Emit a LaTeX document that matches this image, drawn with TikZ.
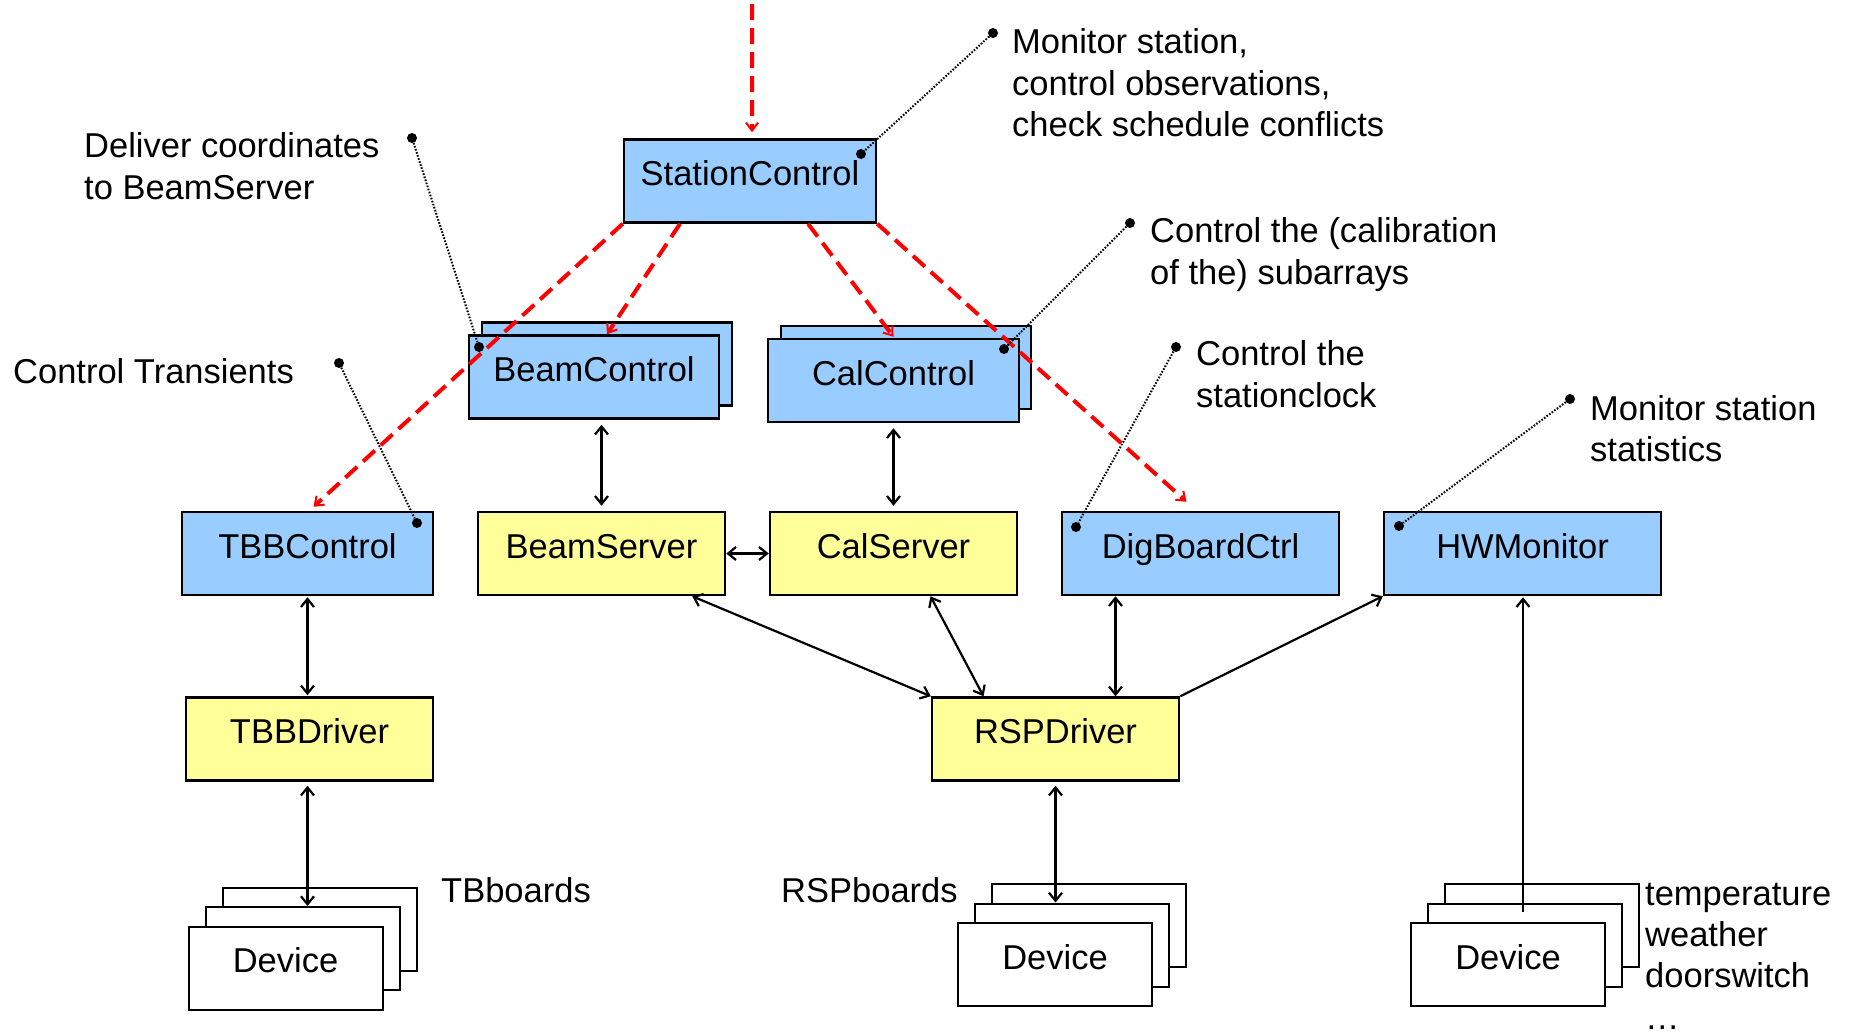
\documentclass[tikz,border=0pt]{standalone}
\usepackage{fontspec}
\setmainfont{Liberation Sans}
\usetikzlibrary{arrows.meta}
\definecolor{boxblue}{RGB}{153,204,255}
\definecolor{boxyellow}{RGB}{255,255,153}
\definecolor{dashred}{RGB}{255,0,0}
\begin{document}
\begin{tikzpicture}[x=1bp,y=-1bp,
  font=\fontsize{34.5bp}{41.4bp}\selectfont,
  >={Straight Barb[length=8bp,width=13bp]},
  box/.style={draw=black, line width=2.5bp, inner sep=0pt, text height=28bp, text depth=19bp, minimum height=83bp},
  ctrlbox/.style={box, fill=boxblue},
  srvbox/.style={box, fill=boxyellow},
  devbox/.style={box, fill=white, line width=2bp, minimum width=194bp},
  note/.style={inner sep=0pt, align=left, anchor=north west},
  conn/.style={line width=2.2bp},
  ctlflow/.style={dashred, line width=4bp, dash pattern=on 16bp off 8bp, -{Straight Barb[length=8bp,width=12bp,line width=2bp]}},
  pin/.style={circle, fill=black, inner sep=0pt, minimum size=10bp},
  pointer/.style={line width=2bp, dash pattern=on 1.6bp off 1.6bp},
]
\useasboundingbox (0,0) rectangle (1854,1033);

% ---- boxes ----
\node[ctrlbox, minimum width=252bp] (sc) at (750,181) {StationControl};

\node[ctrlbox, minimum width=250bp] (bcback) at (607,364) {};
\node[ctrlbox, minimum width=250bp] (bc) at (594,377) {BeamControl};
\node[ctrlbox, minimum width=250bp] (ccback) at (906,367.5) {};
\node[ctrlbox, minimum width=251bp] (cc) at (893.5,380.5) {CalControl};

\node[ctrlbox, minimum width=251bp] (tbbc) at (307.5,553.5) {TBBControl};
\node[srvbox, minimum width=247bp] (bs) at (601.5,553.5) {BeamServer};
\node[srvbox, minimum width=247bp] (cs) at (893.5,553.5) {CalServer};
\node[ctrlbox, minimum width=277bp] (dbc) at (1200.5,553.5) {DigBoardCtrl};
\node[ctrlbox, minimum width=277bp] (hwm) at (1522.5,553.5) {HWMonitor};

\node[srvbox, minimum width=247bp] (tbbd) at (309.5,739) {TBBDriver};
\node[srvbox, minimum width=247bp] (rspd) at (1055.5,739) {RSPDriver};

% devices
\node[devbox] (tbb) at (319.5,929) {};
\node[devbox] (tbm) at (302.5,948.5) {};
\node[devbox] (tbf) at (285.5,968) {Device};

\node[devbox] (rspb) at (1089,925.5) {};
\node[devbox] (rspm) at (1072,945) {};
\node[devbox] (rspf) at (1055,964.5) {Device};

\node[devbox] (hwb) at (1542,925.5) {};
\node[devbox] (hwmid) at (1525,945) {};
\node[devbox] (hwf) at (1508,964.5) {Device};

% ---- black connectors ----
\draw[conn,<->,shorten <=5bp,shorten >=5bp] (bc.south -| bs.north) -- (bs.north);
\draw[conn,<->,shorten <=5bp,shorten >=5bp] (cc.south -| cs.north) -- (cs.north);
\draw[conn,<->] (bs.east) -- (cs.west);
\draw[conn,<->,shorten <=1bp,shorten >=1bp] (tbbc.south) -- (tbbc.south |- tbbd.north);
\draw[conn,<->,shorten <=4bp] (tbbc.south |- tbbd.south) -- (tbbc.south |- tbm.north);
\draw[conn,<->,shorten <=4bp] (rspd.south) -- (rspd.south |- rspm.north);
\coordinate (hwend) at (1523,912);
\draw[conn,->,shorten >=1bp] (hwend) -- (hwend |- hwm.south);
\draw[conn,<->] ([xshift=-34bp]bs.south east) -- (rspd.north west);
\draw[conn,<->] ([xshift=37bp]cs.south) -- ([xshift=-72bp]rspd.north);
\coordinate (rspdb) at ([xshift=60bp]rspd.north);
\draw[conn,<->] (rspdb) -- (rspdb |- dbc.south);
\draw[conn,->] (rspd.north east) -- (hwm.south west);

% ---- red control flow ----
\coordinate (entry) at (752,4);
\draw[ctlflow] (entry) -- ([xshift=2bp,yshift=6bp]sc.north);
\draw[ctlflow] (sc.south west) -- ([xshift=6bp,yshift=4bp]tbbc.north);
\draw[ctlflow] ([xshift=-70bp]sc.south) -- ([xshift=13bp]bc.north);
\draw[ctlflow] ([xshift=58bp]sc.south) -- ([yshift=1bp]cc.north);
\draw[ctlflow] (sc.south east) -- ([xshift=-14bp,yshift=9bp]dbc.north);

% ---- annotations ----
\node[pin] (p1) at (993,33) {};
\node[pin] (p1b) at (861,154) {};
\draw[pointer] (p1) -- (p1b);
\node[note] (t1) at (1012,28.5) {Monitor station,\\control observations,\\check schedule conflicts};

\node[pin] (p2) at (412,138) {};
\node[pin] (p2b) at (479,347) {};
\draw[pointer] (p2) -- (p2b);
\node[note] (t2) at (84,132.5) {Deliver coordinates\\to BeamServer};

\node[pin] (p3) at (339,363) {};
\node[pin] (p3b) at (417,523) {};
\draw[pointer] (p3) -- (p3b);
\node[inner sep=0pt, anchor=base west] (t3) at (13,383) {Control Transients};

\node[pin] (p4) at (1130,223) {};
\node[pin] (p4b) at (1004,349) {};
\draw[pointer] (p4) -- (p4b);
\node[note] (t4) at (1150,217.5) {Control the (calibration\\of the) subarrays};

\node[pin] (p5) at (1176,347) {};
\node[pin] (p5b) at (1076,527) {};
\draw[pointer] (p5) -- (p5b);
\node[note] (t5) at (1196,340.5) {Control the\\stationclock};

\node[pin] (p6) at (1570,399) {};
\node[pin] (p6b) at (1399,526) {};
\draw[pointer] (p6) -- (p6b);
\node[note] (t6) at (1590,395) {Monitor station\\statistics};

\node[inner sep=0pt, anchor=base west] (tbl) at (441,902) {TBboards};
\node[inner sep=0pt, anchor=base west] (rspl) at (781,902) {RSPboards};
\node[note] (hwl) at (1645,882.5) {temperature\\weather\\doorswitch\\…};
\end{tikzpicture}
\end{document}
